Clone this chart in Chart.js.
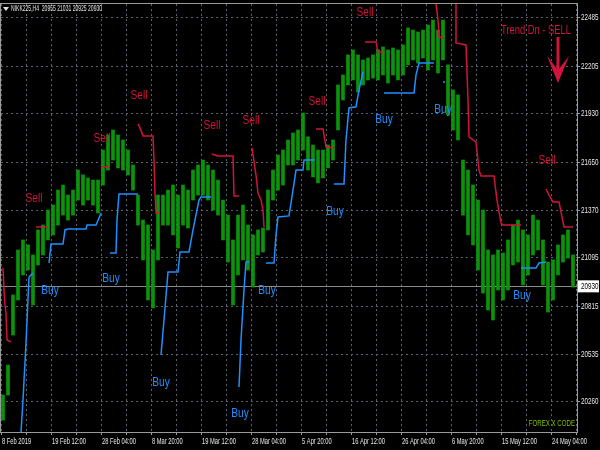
<!DOCTYPE html>
<html>
<head>
<meta charset="utf-8">
<script src="https://cdn.jsdelivr.net/npm/chart.js@4.4.1/dist/chart.umd.min.js"></script>
<style>
  html, body { margin: 0; padding: 0; background: #000; }
</style>
</head>
<body>
<canvas id="chart" width="600" height="450"></canvas>
<script>
// H4 bars (bar index -> low / high)
const barX = [2,7,12,17,22,27,32,37,42,47,52,57,62,67,72,77,82,87,92,97,
  102,107,112,117,122,127,132,137,142,147,152,157,162,167,172,177,182,187,192,197,
  202,207,212,217,222,227,232,237,242,247,252,257,262,267,272,277,282,287,292,297,
  302,307,312,317,322,327,332,337,342,347,352,357,362,367,372,377,382,387,392,397,
  402,407,412,417,422,427,432,437,442,447,452,457,462,467,472,477,482,487,492,497,
  502,507,512,517,522,527,532,537,542,547,552,557,562,567,572];
const barLow = [20155,20300,20648,20851,20996,21025,20822,21054,21112,21199,21228,21285,21343,21314,21343,21430,21401,21430,21401,21355,
  21517,21604,21662,21616,21604,21576,21488,21285,21083,20851,20805,21083,21285,21285,21228,21152,21285,21268,21430,21459,
  21459,21430,21372,21343,21199,21071,20822,20996,21083,21025,20926,21112,21129,21257,21430,21488,21517,21633,21633,21662,
  21720,21604,21564,21529,21558,21616,21662,21836,22010,22097,22126,22056,22097,22126,22137,22126,22155,22108,22155,22126,
  22155,22213,22242,22224,22253,22184,22242,22166,22242,21923,21836,21778,21343,21228,21170,21025,20891,20793,20735,20909,
  20851,20909,21054,21071,20938,20996,21112,21141,20938,20781,20851,20996,21071,21094,20926];
const barHigh = [20300,20474,20880,21141,21199,21170,21112,21257,21285,21372,21401,21488,21517,21459,21488,21604,21576,21558,21546,21546,
  21720,21807,21836,21807,21778,21720,21633,21459,21314,21285,21141,21459,21459,21488,21517,21459,21517,21488,21604,21633,
  21662,21633,21604,21546,21430,21343,21199,21343,21401,21285,21228,21257,21268,21488,21604,21691,21720,21778,21819,21836,
  21934,21796,21749,21720,21720,21749,21778,22097,22155,22271,22300,22271,22242,22253,22271,22300,22317,22300,22311,22300,
  22329,22427,22415,22404,22415,22444,22473,22415,22473,22213,22068,22039,21662,21604,21517,21430,21372,21141,21112,21141,
  21123,21199,21285,21314,21257,21228,21343,21314,21199,21071,21083,21170,21228,21257,21112];

// trailing stops (null = break)
const sellStopX = [2,3,4,5,6,10,null, 35,47,null, 101,108,null, 137,139,142,152,153,154,155,159,null,
  211,217,232,233,238,null, 251,255,257,260,262,263,null, 315,322,325,333,null, 364,375,377,382,null,
  435,437,438,442,null, 455,455,465,467,468,475,478,480,493,496,500,502,520,null,
  545,548,552,558,563,572];
const sellStopY = [21036,20909,20822,20776,20619,20608,null, 21274,21274,null, 21621,21621,null,
  21871,21848,21801,21801,21662,21471,21355,21355,null, 21697,21685,21685,21453,21453,null,
  21732,21575,21471,21430,21372,21274,null, 21842,21842,21737,21732,null, 22346,22346,22288,22288,null,
  22566,22473,22375,22369,null, 22566,22340,22329,22010,21796,21766,21604,21570,21570,21430,21297,21285,21285,null,
  21494,21459,21419,21419,21274,21274];
const buyStopX = [20,22,25,28,32,null, 48,50,62,64,67,85,86,95,98,100,null, 109,115,116,118,137,null,
  160,163,167,177,179,188,192,198,200,210,null, 238,240,243,245,248,null,
  265,273,275,277,288,292,295,302,303,314,null, 333,343,345,348,355,358,362,null,
  383,413,415,418,433,null, 442,444,null, 520,535,538,545];
const buyStopY = [20086,20272,20602,20984,21007,null, 21065,21175,21175,21257,21262,21262,21285,21285,21326,21355,null,
  21123,21123,21314,21465,21465,null, 20532,20735,21013,21013,21129,21129,21257,21430,21448,21448,null,
  20347,20619,20909,21071,21071,null, 21065,21065,21228,21332,21338,21488,21604,21604,21662,21662,null,
  21523,21523,21778,21964,21970,22068,22172,null, 22050,22050,22155,22224,22224,null, 22114,22114,null,
  21036,21036,21065,21071];

// signal labels
const sellLabelX = [33,101,138,211,250,316,364,546];
const sellLabelY = [21442,21790,22039,21865,21894,22004,22520,21662];
const buyLabelX = [49,110,160,239,266,334,383,442,521];
const buyLabelY = [20909,20973,20376,20196,20909,21367,21900,21958,20880];

const priceTicks = [20260,20535,20815,21095,21370,21650,21930,22205,22485];
const timeLabels = ['8 Feb 2019','19 Feb 12:00','28 Feb 04:00','8 Mar 20:00','19 Mar 12:00','28 Mar 04:00',
  '5 Apr 20:00','16 Apr 12:00','26 Apr 04:00','6 May 20:00','15 May 12:00','24 May 04:00'];
const lastPrice = 20930;
const headerText = 'NIKK225,H4  20955 21031 20925 20930';

const FONT = '"Liberation Sans", Arial, sans-serif';

// narrow text: squeeze horizontally like the terminal font
function narrowText(c, text, x, y, size, squeeze, align) {
  c.save();
  c.font = size + 'px ' + FONT;
  c.textAlign = align || 'center';
  c.textBaseline = 'middle';
  c.translate(x, y);
  c.scale(squeeze, 1);
  c.fillText(text, 0, 0);
  c.restore();
}

const overlay = {
  id: 'overlay',
  beforeDraw(chart) {
    const c = chart.ctx;
    c.save();
    c.fillStyle = '#000';
    c.fillRect(0, 0, chart.width, chart.height);
    c.restore();
  },
  beforeDatasetsDraw(chart) {
    const c = chart.ctx, a = chart.chartArea;
    const py = Math.round(chart.scales.y.getPixelForValue(lastPrice)) + 0.5;
    c.save();
    c.strokeStyle = '#8a8a8a';
    c.lineWidth = 1;
    c.beginPath();
    c.moveTo(a.left, py);
    c.lineTo(a.right, py);
    c.stroke();
    c.restore();
  },
  afterDraw(chart) {
    const c = chart.ctx, a = chart.chartArea;
    const xs = chart.scales.x, ys = chart.scales.y;
    c.save();
    // frame
    c.strokeStyle = '#9a9a9a';
    c.lineWidth = 1;
    c.strokeRect(a.left - 0.5, a.top - 0.5, a.right - a.left + 1, a.bottom - a.top + 1);

    // axis labels, squeezed
    c.fillStyle = '#e6e6e6';
    ys.ticks.forEach(t => narrowText(c, String(t.value), a.right + 4, ys.getPixelForValue(t.value), 9, 0.7, 'left'));
    xs.ticks.forEach(t => {
      if (t.value % 50 === 0) narrowText(c, timeLabels[t.value / 50], xs.getPixelForValue(t.value) + 1, a.bottom + 10, 9, 0.64, 'left');
    });

    // signal labels
    c.fillStyle = '#d0143c';
    sellLabelX.forEach((x, i) => narrowText(c, 'Sell', xs.getPixelForValue(x), ys.getPixelForValue(sellLabelY[i]), 13, 0.78));
    c.fillStyle = '#1e90ff';
    buyLabelX.forEach((x, i) => narrowText(c, 'Buy', xs.getPixelForValue(x), ys.getPixelForValue(buyLabelY[i]), 13, 0.78));

    // trend note + arrow
    c.fillStyle = '#d0143c';
    narrowText(c, 'Trend Dn - SELL', xs.getPixelForValue(535), ys.getPixelForValue(22415), 13, 0.72);
    const ax = xs.getPixelForValue(557);
    const aTop = ys.getPixelForValue(22375), aTip = ys.getPixelForValue(22108);
    c.strokeStyle = '#d0143c';
    c.lineWidth = 3;
    c.beginPath();
    c.moveTo(ax, aTop);
    c.lineTo(ax, aTip - 12);
    c.stroke();
    c.beginPath();
    c.moveTo(ax - 11, aTip - 27);
    c.lineTo(ax, aTip - 13);
    c.lineTo(ax + 11, aTip - 27);
    c.lineTo(ax, aTip);
    c.closePath();
    c.fill();

    // last price box
    const py = ys.getPixelForValue(lastPrice);
    c.fillStyle = '#fff';
    c.fillRect(a.right + 1, py - 6, 21, 12);
    c.fillStyle = '#000';
    narrowText(c, String(lastPrice), a.right + 4, py, 9, 0.7, 'left');

    // header
    c.fillStyle = '#e0e0e0';
    c.beginPath();
    c.moveTo(3, 7); c.lineTo(9, 7); c.lineTo(6, 11); c.closePath();
    c.fill();
    narrowText(c, headerText, 11, 9, 9, 0.56, 'left');

    // watermark
    c.fillStyle = '#7fbf00';
    narrowText(c, 'FOREX X CODE', a.right - 2, a.bottom - 8, 9, 0.68, 'right');
    c.restore();
  }
};

new Chart(document.getElementById('chart').getContext('2d'), {
  data: {
    datasets: [
      {
        type: 'bar',
        data: barX.map((x, i) => ({ x: x, y: [barLow[i], barHigh[i]] })),
        backgroundColor: '#0a940a',
        barThickness: 3,
        grouped: false,
        order: 3
      },
      {
        type: 'line',
        data: sellStopX.map((x, i) => ({ x: x, y: sellStopY[i] })),
        borderColor: '#d0143c',
        borderWidth: 1.5,
        pointRadius: 0,
        spanGaps: false,
        order: 2
      },
      {
        type: 'line',
        data: buyStopX.map((x, i) => ({ x: x, y: buyStopY[i] })),
        borderColor: '#1e90ff',
        borderWidth: 1.5,
        pointRadius: 0,
        spanGaps: false,
        order: 1
      }
    ]
  },
  options: {
    responsive: false,
    animation: false,
    layout: { padding: { top: 4, left: 1 } },
    plugins: { legend: { display: false }, tooltip: { enabled: false } },
    scales: {
      x: {
        type: 'linear',
        offset: false,
        min: 0,
        max: 576,
        afterBuildTicks: s => { s.ticks = []; for (const v of [0,25,50,75,100,125,150,175,200,225,250,275,300,325,350,375,400,425,450,475,500,525,550,575]) s.ticks.push({ value: v }); },
        afterFit: s => { s.height = 18; },
        border: { display: false, dash: [2, 3] },
        grid: { offset: false, color: '#56626e', drawTicks: true, tickLength: 3, tickColor: '#9a9a9a' },
        ticks: { display: false }
      },
      y: {
        position: 'right',
        min: 20086,
        max: 22566,
        afterBuildTicks: s => { s.ticks = priceTicks.map(v => ({ value: v })); },
        afterFit: s => { s.width = 23; },
        border: { display: false, dash: [2, 3] },
        grid: { color: '#56626e', drawTicks: true, tickLength: 3, tickColor: '#9a9a9a' },
        ticks: { display: false }
      }
    }
  },
  plugins: [overlay]
});
</script>
</body>
</html>
